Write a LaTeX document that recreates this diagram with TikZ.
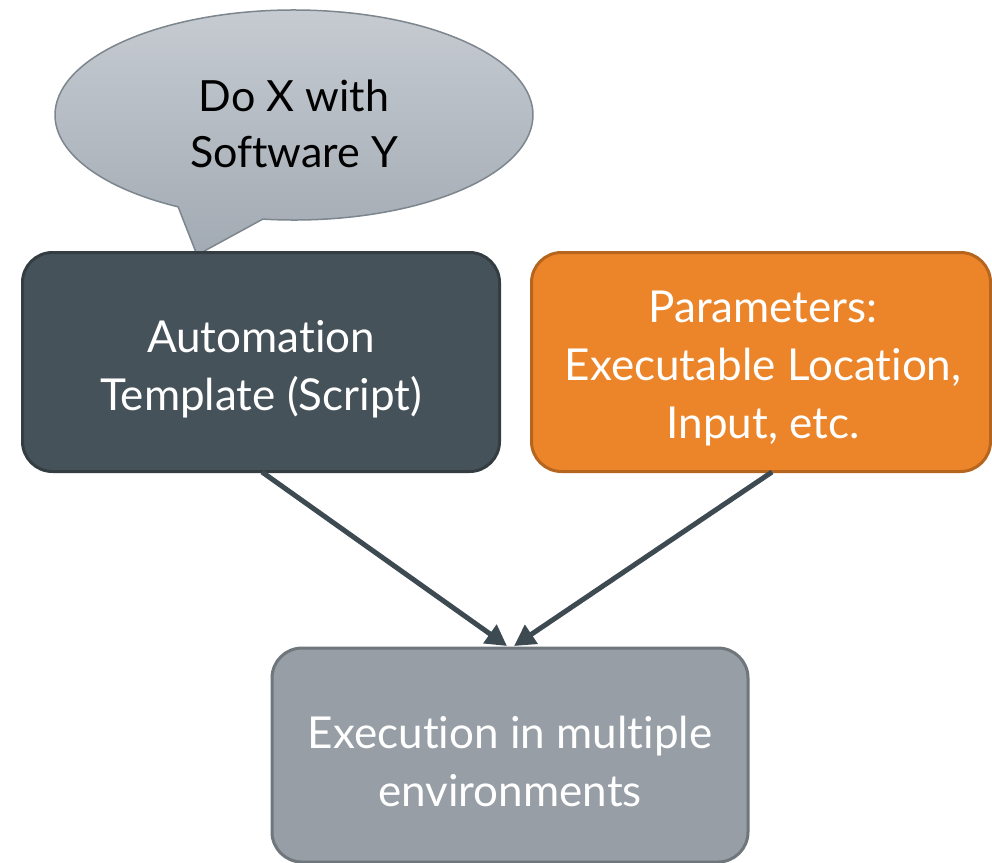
\documentclass[tikz,border=0pt]{standalone}
\usepackage{fontspec}
\setmainfont{Lato}[Ligatures=NoCommon]
\usetikzlibrary{arrows.meta}
\definecolor{darkbox}{HTML}{465259}
\definecolor{darkedge}{HTML}{343D42}
\definecolor{orangebox}{HTML}{EC8529}
\definecolor{orangeedge}{HTML}{B5651D}
\definecolor{graybox}{HTML}{979EA6}
\definecolor{grayedge}{HTML}{6F767C}
\definecolor{calltop}{HTML}{C7CCD2}
\definecolor{callbot}{HTML}{A2AAB3}
\definecolor{calledge}{HTML}{7D858D}
\definecolor{arrowc}{HTML}{3E4A52}
\tikzset{
  card/.style={rounded corners=30pt, line width=3pt, inner sep=0pt},
  cardtext/.style={align=center, text=white, inner sep=0pt,
    font=\fontsize{44}{58}\selectfont},
  link/.style={draw=arrowc, line width=5pt, -{Triangle[length=21pt,width=22pt]}}
}
\begin{document}
\begin{tikzpicture}[x=1pt,y=1pt]
\useasboundingbox (0,0) rectangle (992,-862);
% callout (ellipse centre (294,-115), radii 239 x 105)
\path[top color=calltop, bottom color=callbot, draw=calledge, line width=1.5pt]
  (294+239*cos 241, -115+105*sin 241) coordinate (tailA)
  -- (197,-255) coordinate (tip)
  -- (294+239*cos 262.5, -115+105*sin 262.5)
  arc[start angle=262.5, end angle=601, x radius=239, y radius=105]
  -- cycle;
\node[font=\fontsize{43}{56}\selectfont, align=center, text=black, inner sep=0pt] (call) at (294,-124) {Do X with\\Software Y};
% boxes
\node[card, draw=darkedge, fill=darkbox, minimum width=477pt, minimum height=219pt] (tmpl) at (261,-362) {};
\node[cardtext] (tmpltxt) at (261,-369) {Automation\\Template (Script)};
\node[card, draw=orangeedge, fill=orangebox, minimum width=459pt, minimum height=219pt] (param) at (761,-362) {};
\node[cardtext] (paramtxt) at (763,-369) {Parameters:\\Executable Location,\\Input, etc.};
\node[card, draw=grayedge, fill=graybox, minimum width=476pt, minimum height=214pt] (exec) at (510,-755) {};
\node[cardtext] (exectxt) at (510,-761) {Execution in multiple\\environments};
% arrows
\coordinate (a1) at (262,-472);
\coordinate (a2) at (772,-472);
\coordinate (t1) at (507,-646);
\coordinate (t2) at (514,-646);
\draw[link] (a1) -- (t1);
\draw[link] (a2) -- (t2);
\end{tikzpicture}
\end{document}
